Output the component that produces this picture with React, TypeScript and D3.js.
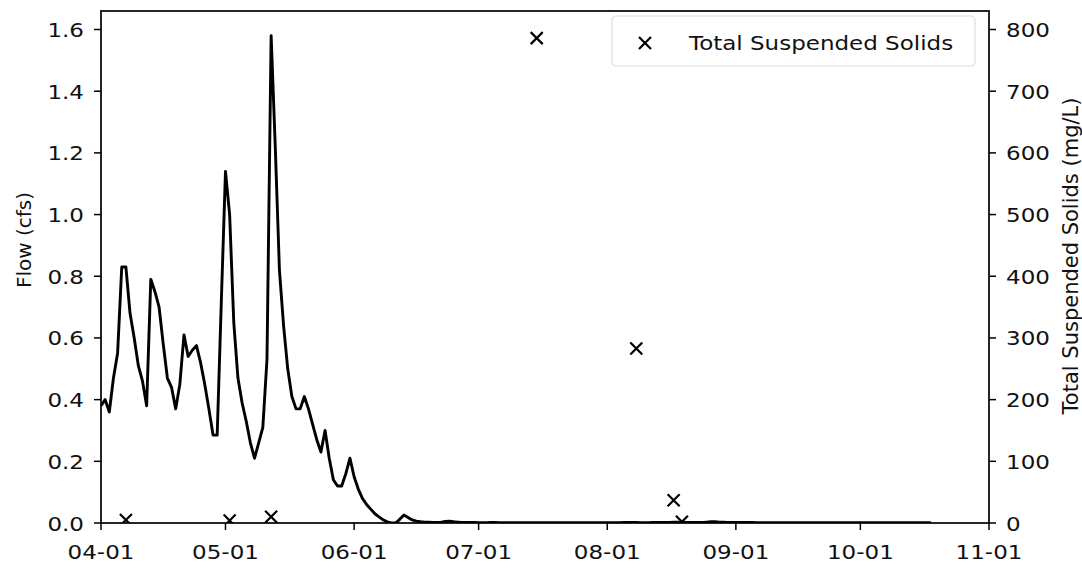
import React from "react";
import * as d3 from "d3";

// Daily mean flow (cfs), starting 2018-04-01
const flowStart = "2018-04-01";
const flowCfs: number[] = [
  0.38, 0.40, 0.36, 0.47, 0.55, 0.83, 0.83, 0.68, 0.60, 0.51,
  0.46, 0.38, 0.79, 0.75, 0.70, 0.58, 0.47, 0.44, 0.37, 0.45,
  0.61, 0.54, 0.56, 0.575, 0.52, 0.45, 0.37, 0.285, 0.285, 0.72,
  1.14, 1.00, 0.65, 0.47, 0.39, 0.33, 0.26, 0.21, 0.26, 0.31,
  0.53, 1.58, 1.22, 0.82, 0.64, 0.50, 0.41, 0.37, 0.37, 0.41,
  0.37, 0.32, 0.27, 0.23, 0.30, 0.21, 0.14, 0.12, 0.12, 0.16,
  0.21, 0.15, 0.11, 0.08, 0.06, 0.045, 0.03, 0.02, 0.01, 0.004,
  0.0, 0.0, 0.012, 0.026, 0.018, 0.01, 0.006, 0.004,
  0.003, 0.003, 0.002, 0.002, 0.003, 0.005, 0.006, 0.004, 0.003, 0.002,
  0.002, 0.002, 0.002, 0.001, 0.001, 0.001, 0.002, 0.002, 0.001, 0.001,
  0.001, 0.001, 0.001, 0.001, 0.001, 0.001, 0.001, 0.001, 0.001, 0.001,
  0.001, 0.001, 0.001, 0.001, 0.001, 0.001, 0.001, 0.001, 0.001, 0.001,
  0.001, 0.001, 0.001, 0.001, 0.001, 0.001, 0.001, 0.001, 0.002, 0.002,
  0.002, 0.002, 0.001, 0.001, 0.001, 0.002, 0.002, 0.002, 0.002, 0.002,
  0.003, 0.003, 0.003, 0.002, 0.002, 0.002, 0.002, 0.002, 0.003, 0.004,
  0.004, 0.003, 0.003, 0.002, 0.002, 0.002, 0.002, 0.002, 0.002, 0.002,
  0.001, 0.001, 0.001, 0.001, 0.001, 0.001, 0.001, 0.001, 0.001, 0.001,
  0.001, 0.001, 0.001, 0.001, 0.001, 0.001, 0.001, 0.001, 0.001, 0.001,
  0.001, 0.001, 0.001, 0.001, 0.001, 0.001, 0.001, 0.001, 0.001, 0.001,
  0.001, 0.001, 0.001, 0.001, 0.001, 0.001, 0.001, 0.001, 0.001, 0.001,
  0.001, 0.001, 0.001,
];

// Total suspended solids grab samples
const tssDates = ["2018-04-07", "2018-05-02", "2018-05-12", "2018-07-15", "2018-08-08", "2018-08-17", "2018-08-19"];
const tssMgL = [5, 4, 10, 786, 283, 37, 2];

// Axis ticks
const flowTicks = [0.0, 0.2, 0.4, 0.6, 0.8, 1.0, 1.2, 1.4, 1.6];
const tssTicks = [0, 100, 200, 300, 400, 500, 600, 700, 800];
const monthTicks = ["2018-04-01", "2018-05-01", "2018-06-01", "2018-07-01", "2018-08-01", "2018-09-01", "2018-10-01", "2018-11-01"];

const W = 1082;
const H = 568;
const plot = { left: 101, right: 989, top: 11, bottom: 523 };
const FONT = "'DejaVu Sans', 'Liberation Sans', sans-serif";
const FS = 20;
const SX = 1.15;

const parse = d3.utcParse("%Y-%m-%d");

export default function App() {
  const x = d3
    .scaleUtc()
    .domain([parse(monthTicks[0])!, parse(monthTicks[monthTicks.length - 1])!])
    .range([plot.left, plot.right]);
  const yFlow = d3.scaleLinear().domain([0, 1.66]).range([plot.bottom, plot.top]);
  const yTss = d3.scaleLinear().domain([0, 830]).range([plot.bottom, plot.top]);

  const start = parse(flowStart)!;
  const flowPts = flowCfs.map((v, i) => ({ date: d3.utcDay.offset(start, i), v }));
  const line = d3
    .line<{ date: Date; v: number }>()
    .x((d) => x(d.date))
    .y((d) => yFlow(d.v));

  const fmt = d3.utcFormat("%m-%d");
  const tick = 7;

  const xMark = (cx: number, cy: number, key: string | number) => (
    <path
      key={key}
      d={`M${cx - 6},${cy - 6}L${cx + 6},${cy + 6}M${cx - 6},${cy + 6}L${cx + 6},${cy - 6}`}
      stroke="#000"
      strokeWidth={2.2}
      fill="none"
    />
  );

  return (
    <svg
      width={W}
      height={H}
      style={{ position: "absolute", left: 0, top: 0, display: "block", background: "#fff" }}
      fontFamily={FONT}
    >
      <defs>
        <clipPath id="plot-clip">
          <rect x={plot.left} y={plot.top} width={plot.right - plot.left} height={plot.bottom - plot.top} />
        </clipPath>
      </defs>
      <rect width={W} height={H} fill="#fff" />

      {/* flow line */}
      <g clipPath="url(#plot-clip)">
        <path d={line(flowPts) || ""} fill="none" stroke="#000" strokeWidth={2.9} strokeLinejoin="round" />
      </g>

      {/* TSS samples */}
      <g clipPath="url(#plot-clip)">
        {tssDates.map((d, i) => xMark(x(parse(d)!), yTss(tssMgL[i]), i))}
      </g>

      {/* legend */}
      <g>
        <rect x={612} y={16} width={363} height={50} rx={4} fill="#fff" fillOpacity={0.8} stroke="#dcdcdc" strokeWidth={1.2} />
        {xMark(645, 43, "legend")}
        <text
          transform={`translate(689,50) scale(${SX},1)`}
          fontSize={FS}
          fill="#111"
        >
          Total Suspended Solids
        </text>
      </g>

      {/* frame */}
      <rect
        x={plot.left}
        y={plot.top}
        width={plot.right - plot.left}
        height={plot.bottom - plot.top}
        fill="none"
        stroke="#000"
        strokeWidth={1.7}
      />

      {/* left axis */}
      <g>
        {flowTicks.map((t) => (
          <g key={t}>
            <line x1={plot.left - tick} x2={plot.left} y1={yFlow(t)} y2={yFlow(t)} stroke="#000" strokeWidth={1.5} />
            <text
              transform={`translate(${plot.left - 17},${yFlow(t) + 7.5}) scale(${SX},1)`}
              textAnchor="end"
              fontSize={FS}
              fill="#111"
            >
              {t.toFixed(1)}
            </text>
          </g>
        ))}
        <text
          transform={`translate(31,240) rotate(-90)`}
          textAnchor="middle"
          fontSize={FS}
          fill="#111"
        >
          Flow (cfs)
        </text>
      </g>

      {/* right axis */}
      <g>
        {tssTicks.map((t) => (
          <g key={t}>
            <line x1={plot.right} x2={plot.right + tick} y1={yTss(t)} y2={yTss(t)} stroke="#000" strokeWidth={1.5} />
            <text
              transform={`translate(${plot.right + 17},${yTss(t) + 7.5}) scale(${SX},1)`}
              textAnchor="start"
              fontSize={FS}
              fill="#111"
            >
              {t}
            </text>
          </g>
        ))}
        <text
          transform={`translate(1078,256) rotate(-90)`}
          textAnchor="middle"
          fontSize={21}
          fill="#111"
        >
          Total Suspended Solids (mg/L)
        </text>
      </g>

      {/* bottom axis */}
      <g>
        {monthTicks.map((m) => {
          const px = x(parse(m)!);
          return (
            <g key={m}>
              <line x1={px} x2={px} y1={plot.bottom} y2={plot.bottom + tick} stroke="#000" strokeWidth={1.5} />
              <text
                transform={`translate(${px},559) scale(${SX},1)`}
                textAnchor="middle"
                fontSize={FS}
                fill="#111"
              >
                {fmt(parse(m)!)}
              </text>
            </g>
          );
        })}
      </g>
    </svg>
  );
}
